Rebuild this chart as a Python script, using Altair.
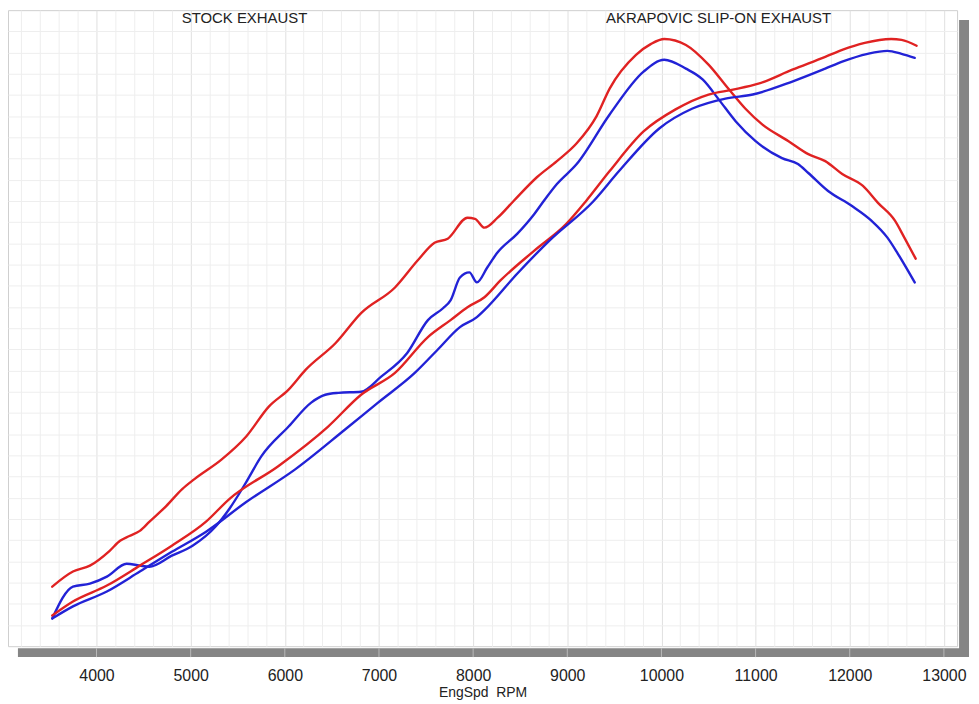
import altair as alt
import pandas as pd

# ---- data (rpm, relative level; y axis carries no labels) ----
akra_torque_rpm = [3530, 3750, 3930, 4140, 4250, 4350, 4460, 4560, 4740, 4910, 5040, 5330, 5590, 5830, 6040,
                   6220, 6540, 6810, 7170, 7410, 7590, 7730, 7940, 8020, 8120, 8260, 8430, 8680, 8890, 9100,
                   9310, 9450, 9730, 9890, 10030, 10260, 10500, 10710, 10890, 11070, 11350, 11560, 11740,
                   11920, 12140, 12300, 12480, 12580, 12700]
akra_torque_val = [2.81, 3.52, 3.80, 4.50, 4.97, 5.20, 5.44, 5.86, 6.61, 7.41, 7.88, 8.81, 9.89, 11.30, 12.10,
                   13.03, 14.30, 15.71, 16.92, 18.19, 19.03, 19.22, 20.21, 20.16, 19.74, 20.21, 21.00, 22.13,
                   22.88, 23.72, 24.99, 26.30, 27.89, 28.41, 28.64, 28.36, 27.43, 26.30, 25.36, 24.61, 23.82,
                   23.21, 22.88, 22.27, 21.71, 20.91, 20.07, 19.27, 18.28]

stock_torque_rpm = [3530, 3750, 3930, 4110, 4320, 4460, 4560, 4800, 5020, 5270, 5410, 5590, 5750, 6040, 6280,
                    6430, 6570, 6810, 7020, 7300, 7520, 7680, 7760, 7860, 7960, 8040, 8150, 8250, 8470, 8650,
                    8750, 8890, 9100, 9450, 9810, 10030, 10260, 10440, 10610, 10790, 11000, 11280, 11450,
                    11560, 11770, 12020, 12230, 12400, 12510, 12690]
stock_torque_val = [1.31, 2.81, 2.95, 3.28, 3.89, 3.80, 3.75, 4.27, 4.74, 5.67, 6.47, 7.74, 8.95, 10.36, 11.49,
                    11.86, 11.95, 12.00, 12.70, 13.83, 15.38, 15.94, 16.31, 17.39, 17.63, 17.16, 17.86, 18.52,
                    19.46, 20.39, 21.00, 21.80, 22.74, 25.08, 27.10, 27.66, 27.24, 26.72, 25.78, 24.75, 23.82,
                    23.02, 22.74, 22.32, 21.47, 20.77, 20.07, 19.27, 18.52, 17.16]

akra_power_rpm = [3530, 3750, 4110, 4460, 4800, 5160, 5410, 5930, 6460, 6810, 7170, 7520, 7760, 7940, 8120,
                  8290, 8650, 8990, 9200, 9450, 9810, 10150, 10500, 10760, 11030, 11390, 11740, 11920, 12160,
                  12440, 12550, 12710]
akra_power_val = [1.45, 2.11, 2.86, 3.80, 4.74, 5.86, 6.94, 8.49, 10.36, 11.86, 12.89, 14.58, 15.38, 15.99,
                  16.46, 17.25, 18.66, 19.92, 21.00, 22.41, 24.28, 25.32, 26.02, 26.25, 26.53, 27.19, 27.80,
                  28.13, 28.46, 28.64, 28.60, 28.32]

stock_power_rpm = [3530, 3750, 4110, 4460, 4800, 5160, 5590, 6110, 6640, 6990, 7380, 7620, 7860, 8040, 8120,
                   8470, 8810, 9280, 9550, 9980, 10330, 10680, 10970, 11390, 11740, 11920, 12190, 12400, 12550,
                   12690]
stock_power_val = [1.31, 1.88, 2.58, 3.52, 4.45, 5.39, 6.80, 8.34, 10.22, 11.49, 12.89, 13.97, 15.05, 15.52,
                   15.85, 17.58, 19.13, 21.00, 22.41, 24.43, 25.36, 25.83, 26.02, 26.63, 27.24, 27.57, 27.94,
                   28.08, 27.94, 27.75]

series_names = ["Akrapovic torque", "Stock torque", "Akrapovic power", "Stock power"]
series_colors = ["#e02222", "#2222d6", "#e02222", "#2222d6"]

x_grid_values = list(range(3200, 13200, 200))
x_label_ticks = list(range(4000, 14000, 1000))
y_grid_values = list(range(1, 30))

header_left = "STOCK EXHAUST"
header_right = "AKRAPOVIC SLIP-ON EXHAUST"
x_title = "EngSpd\u00a0\u00a0RPM"

# ---- build table ----
frames = []
for name, r, v in [
    (series_names[0], akra_torque_rpm, akra_torque_val),
    (series_names[1], stock_torque_rpm, stock_torque_val),
    (series_names[2], akra_power_rpm, akra_power_val),
    (series_names[3], stock_power_rpm, stock_power_val),
]:
    frames.append(pd.DataFrame({"rpm": r, "value": v, "series": name}))
df = pd.concat(frames, ignore_index=True)

one = pd.DataFrame({"k": [0]})
FONT = "Liberation Sans"

x_scale = alt.Scale(domain=[3060, 13140], nice=False, zero=False)
y_scale = alt.Scale(domain=[0, 30], nice=False, zero=False)

x_axis = alt.Axis(values=x_grid_values,
                  labelExpr="datum.value % 1000 === 0 ? format(datum.value, 'd') : ''",
                  ticks=False, domain=False, grid=True,
                  gridColor={"condition": {"test": "datum.value % 1000 === 0", "value": "#e0e0e0"},
                             "value": "#eeeeee"},
                  labelFont=FONT, labelFontSize=16, labelColor="#222222", labelPadding=22,
                  labelOverlap=False,
                  titleFont=FONT, titleFontSize=14, titleFontWeight="normal",
                  titleColor="#222222", titlePadding=2)

lines = alt.Chart(df).mark_line(strokeWidth=2.4, strokeJoin="round", strokeCap="round",
                                interpolate="monotone").encode(
    x=alt.X("rpm:Q", scale=x_scale, title=x_title, axis=x_axis),
    y=alt.Y("value:Q", scale=y_scale, title=None,
            axis=alt.Axis(values=y_grid_values, labels=False, ticks=False, domain=False,
                          grid=True, gridColor="#eeeeee")),
    color=alt.Color("series:N", scale=alt.Scale(domain=series_names, range=series_colors), legend=None),
)

shadow_bottom = alt.Chart(one).mark_rect(color="#858585").encode(
    x=alt.value(10), x2=alt.value(967), y=alt.value(642), y2=alt.value(651))
shadow_right = alt.Chart(one).mark_rect(color="#858585").encode(
    x=alt.value(957), x2=alt.value(967), y=alt.value(10), y2=alt.value(651))

band_ticks = alt.Chart(pd.DataFrame({"rpm": x_label_ticks})).mark_rule(color="#b8b8b8", strokeWidth=1).encode(
    x=alt.X("rpm:Q", scale=x_scale, title=x_title, axis=x_axis), y=alt.value(642), y2=alt.value(651))

t_left = alt.Chart(one).mark_text(text=header_left, font=FONT, fontSize=15, color="#222222",
                                  align="center", baseline="alphabetic").encode(
    x=alt.value(238), y=alt.value(13))
t_right = alt.Chart(one).mark_text(text=header_right, font=FONT, fontSize=15, color="#222222",
                                   align="center", baseline="alphabetic").encode(
    x=alt.value(715), y=alt.value(13))

chart = alt.layer(shadow_bottom, shadow_right, band_ticks, lines, t_left, t_right).properties(
    width=955, height=640,
    autosize=alt.AutoSizeParams(type="none"),
    padding={"top": 0, "left": 0, "right": 14, "bottom": 56},
).configure_view(stroke="#cfcfcf", strokeWidth=1)

chart.save("out.html", embed_options={"renderer": "svg", "actions": False})
